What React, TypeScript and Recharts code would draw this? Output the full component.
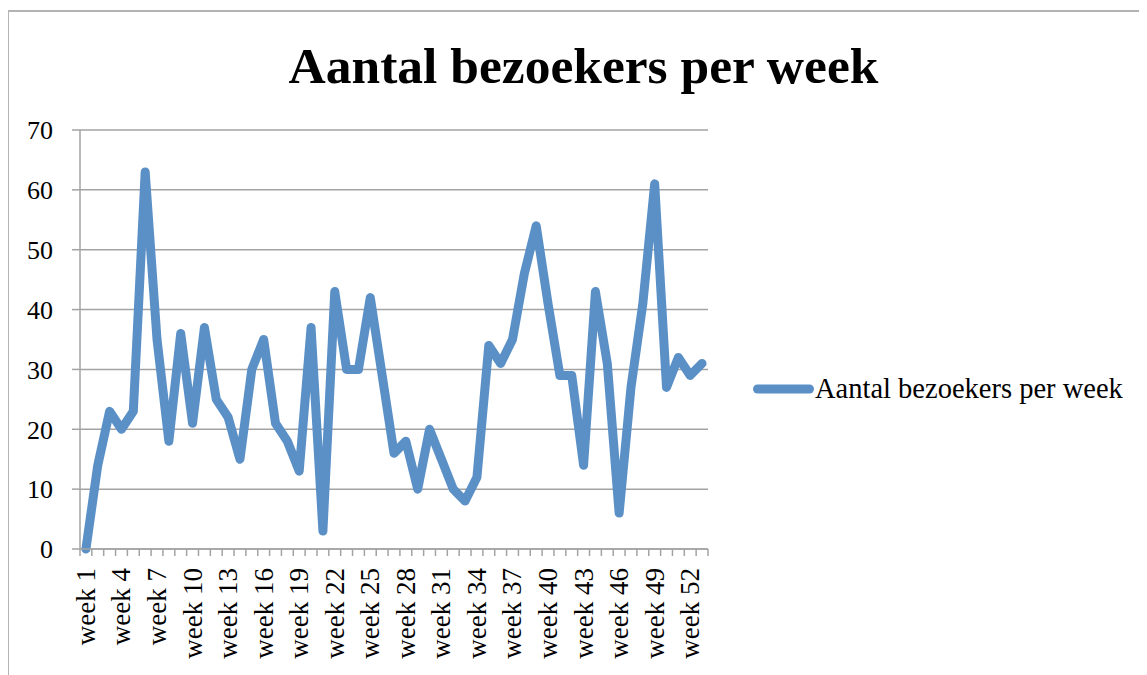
import { LineChart, Line, XAxis, YAxis, CartesianGrid, Legend } from 'recharts';

// bezoekers per week (week 1 t/m 53)
const visitors = [
  0, 14, 23, 20, 23, 63, 35, 18, 36, 21,
  37, 25, 22, 15, 30, 35, 21, 18, 13, 37,
  3, 43, 30, 30, 42, 29, 16, 18, 10, 20,
  15, 10, 8, 12, 34, 31, 35, 46, 54, 41,
  29, 29, 14, 43, 31, 6, 27, 41, 61, 27,
  32, 29, 31,
];
const weeks = visitors.map((_, i) => `week ${i + 1}`);
const yTicks = [0, 10, 20, 30, 40, 50, 60, 70];

const seriesName = 'Aantal bezoekers per week';
const data = weeks.map((week, i) => ({ week, value: visitors[i] }));

const BLUE = '#5b90c7';
const GRID = '#a3a3a3';
const FONT = '"Liberation Serif", "Times New Roman", serif';

function WeekTick(props: any) {
  const { x, y, payload, index, width, visibleTicksCount } = props;
  const half = payload?.offset || width / visibleTicksCount / 2;
  const isLast = index === visibleTicksCount - 1;
  return (
    <g>
      <line x1={x - half} y1={y} x2={x - half} y2={y + 7} stroke={GRID} strokeWidth={1.5} />
      {isLast && <line x1={x + half} y1={y} x2={x + half} y2={y + 7} stroke={GRID} strokeWidth={1.5} />}
      {index % 3 === 0 && (
        <text
          x={x}
          y={y + 19}
          transform={`rotate(-90, ${x}, ${y + 19})`}
          textAnchor="end"
          dominantBaseline="central"
          fontSize={27}
          fill="#000"
        >
          {payload.value}
        </text>
      )}
    </g>
  );
}

function LegendContent() {
  return (
    <div style={{ display: 'flex', alignItems: 'center', whiteSpace: 'nowrap' }}>
      <svg width={62} height={12}>
        <line x1={4.5} y1={6} x2={56.5} y2={6} stroke={BLUE} strokeWidth={9} strokeLinecap="round" />
      </svg>
      <span style={{ fontSize: 28.5, color: '#000', lineHeight: '30px' }}>{seriesName}</span>
    </div>
  );
}

export default function App() {
  return (
    <div style={{ position: 'relative', width: 1139, height: 667, overflow: 'hidden', fontFamily: FONT }}>
      <div
        style={{
          position: 'absolute', left: -1, top: 2, width: 1200, height: 700,
          borderTop: '2px solid #b3b3b3', borderLeft: '2px solid #b3b3b3',
        }}
      />
      <div
        style={{
          position: 'absolute', left: 575.5, top: 33, transform: 'translateX(-50%)',
          fontSize: 51.5, lineHeight: '50px', fontWeight: 'bold', whiteSpace: 'nowrap', color: '#000',
        }}
      >
        Aantal bezoekers per week
      </div>
      <LineChart
        width={1139}
        height={667}
        data={data}
        margin={{ top: 122, right: 439, bottom: 16, left: 0 }}
        style={{ position: 'absolute', left: 0, top: 0 }}
      >
        <CartesianGrid vertical={false} stroke={GRID} strokeWidth={1.5} />
        <XAxis
          dataKey="week"
          scale="band"
          interval={0}
          height={110}
          tickSize={0}
          tickMargin={0}
          tickLine={false}
          axisLine={{ stroke: GRID, strokeWidth: 1.5 }}
          tick={<WeekTick />}
        />
        <YAxis
          width={72}
          domain={[0, 70]}
          ticks={yTicks}
          interval={0}
          tickSize={8}
          tickMargin={19}
          tickLine={{ stroke: GRID, strokeWidth: 1.5 }}
          axisLine={{ stroke: GRID, strokeWidth: 1.5 }}
          tick={{ fontSize: 26, fill: '#000' }}
        />
        <Legend
          layout="horizontal"
          align="center"
          verticalAlign="middle"
          content={<LegendContent />}
          wrapperStyle={{ left: 745, top: 366, width: 'auto' }}
        />
        <Line
          type="linear"
          dataKey="value"
          name={seriesName}
          stroke={BLUE}
          strokeWidth={9}
          strokeLinejoin="round"
          strokeLinecap="round"
          dot={false}
          activeDot={false}
          isAnimationActive={false}
        />
      </LineChart>
    </div>
  );
}
